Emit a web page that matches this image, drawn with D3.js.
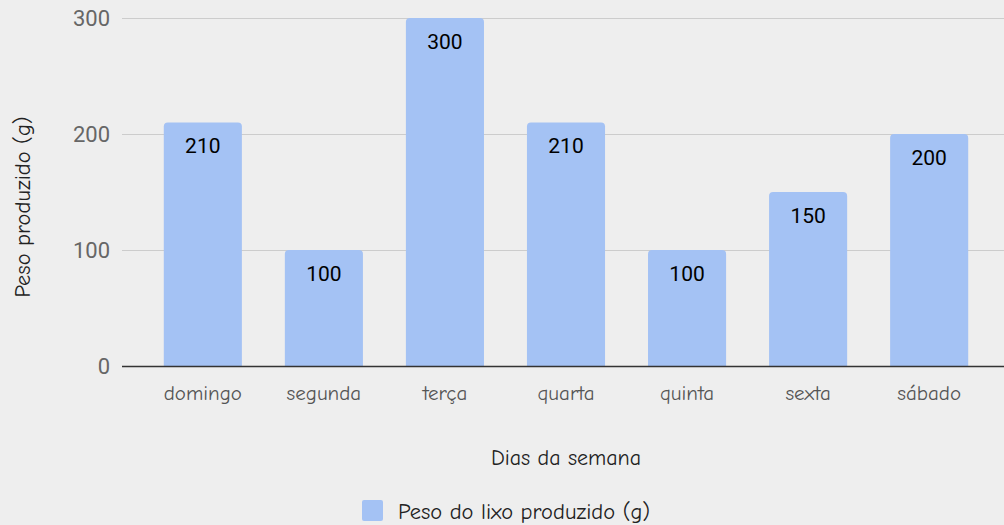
<!DOCTYPE html>
<html>
<head>
<meta charset="utf-8">
<script src="https://cdn.jsdelivr.net/npm/d3@7"></script>
<style>
  body { margin: 0; background: #eeeeee; }
  svg { display: block; }
</style>
</head>
<body>
<script>
var days = ["domingo", "segunda", "terça", "quarta", "quinta", "sexta", "sábado"];
var pesos = [210, 100, 300, 210, 100, 150, 200];
var yTicks = [0, 100, 200, 300];

var w = 1004, h = 525;
var comic = '"Comic Sans MS", "Comic Neue", "DejaVu Sans", sans-serif';

var svg = d3.select('body').append('svg')
    .attr('width', w)
    .attr('height', h);

svg.append('rect').attr('width', w).attr('height', h).attr('fill', '#eeeeee');

var xScale = d3.scaleBand()
    .domain(days)
    .range([142, 990])
    .paddingInner(0.355)
    .paddingOuter(0.18);

var yScale = d3.scaleLinear()
    .domain([0, 300])
    .range([366, 18]);

// gridlines
svg.selectAll('.grid')
    .data(yTicks.filter(function (d) { return d > 0; }))
    .enter()
    .append('line')
    .attr('x1', 122)
    .attr('x2', w)
    .attr('y1', function (d) { return yScale(d) + 0.5; })
    .attr('y2', function (d) { return yScale(d) + 0.5; })
    .attr('stroke', '#cccccc')
    .attr('stroke-width', 1);

// y tick labels
svg.selectAll('.ytick')
    .data(yTicks)
    .enter()
    .append('text')
    .attr('x', 110)
    .attr('y', function (d) { return yScale(d) + 8; })
    .attr('text-anchor', 'end')
    .attr('font-family', 'Roboto, sans-serif')
    .attr('font-size', 22)
    .attr('fill', '#666666')
    .text(function (d) { return d; });

// bars with rounded tops
var rr = 4;
svg.selectAll('.bar')
    .data(pesos)
    .enter()
    .append('path')
    .attr('fill', '#a4c2f4')
    .attr('d', function (d, i) {
        var x0 = xScale(days[i]), bw = xScale.bandwidth();
        var y0 = yScale(d), yb = yScale(0);
        return 'M' + x0 + ',' + yb +
            'V' + (y0 + rr) +
            'Q' + x0 + ',' + y0 + ' ' + (x0 + rr) + ',' + y0 +
            'H' + (x0 + bw - rr) +
            'Q' + (x0 + bw) + ',' + y0 + ' ' + (x0 + bw) + ',' + (y0 + rr) +
            'V' + yb + 'Z';
    });

// value labels
svg.selectAll('.val')
    .data(pesos)
    .enter()
    .append('text')
    .attr('x', function (d, i) { return xScale(days[i]) + xScale.bandwidth() / 2; })
    .attr('y', function (d) { return yScale(d) + 31; })
    .attr('text-anchor', 'middle')
    .attr('font-family', 'Roboto, sans-serif')
    .attr('font-size', 21)
    .attr('fill', '#000000')
    .text(function (d) { return d; });

// baseline
svg.append('line')
    .attr('x1', 122)
    .attr('x2', w)
    .attr('y1', yScale(0) + 0.5)
    .attr('y2', yScale(0) + 0.5)
    .attr('stroke', '#333333')
    .attr('stroke-width', 1.5);

// category labels
svg.selectAll('.xlab')
    .data(days)
    .enter()
    .append('text')
    .attr('x', function (d) { return xScale(d) + xScale.bandwidth() / 2; })
    .attr('y', 400)
    .attr('text-anchor', 'middle')
    .attr('font-family', comic)
    .attr('font-size', 21)
    .attr('fill', '#555555')
    .text(function (d) { return d; });

// axis titles
svg.append('text')
    .attr('x', 566)
    .attr('y', 465)
    .attr('text-anchor', 'middle')
    .attr('font-family', comic)
    .attr('font-size', 22)
    .attr('fill', '#222222')
    .text('Dias da semana');

svg.append('text')
    .attr('transform', 'translate(30,207) rotate(-90)')
    .attr('text-anchor', 'middle')
    .attr('font-family', comic)
    .attr('font-size', 22.5)
    .attr('fill', '#222222')
    .text('Peso produzido (g)');

// legend
svg.append('rect')
    .attr('x', 362)
    .attr('y', 500)
    .attr('width', 21)
    .attr('height', 21)
    .attr('rx', 2)
    .attr('fill', '#a4c2f4');

svg.append('text')
    .attr('x', 398)
    .attr('y', 519)
    .attr('font-family', comic)
    .attr('font-size', 22.5)
    .attr('fill', '#222222')
    .text('Peso do lixo produzido (g)');
</script>
</body>
</html>
